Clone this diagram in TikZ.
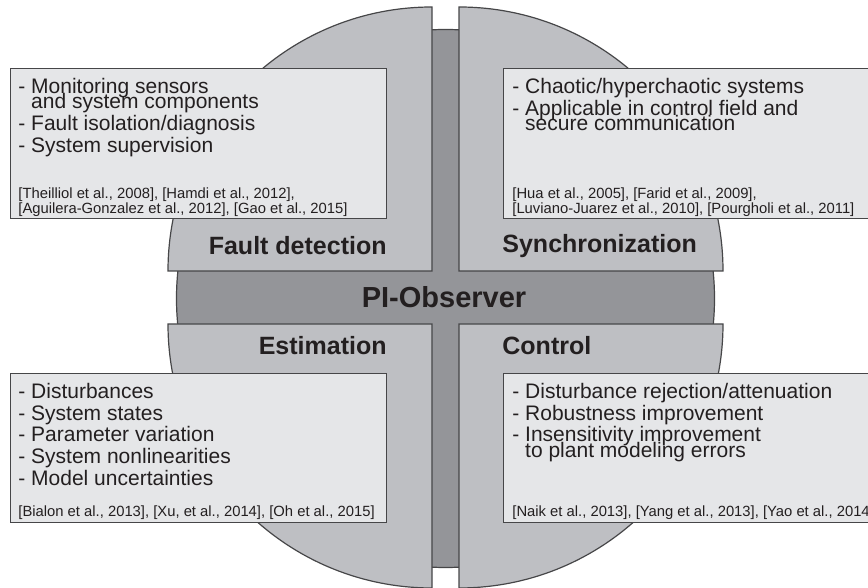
\documentclass[tikz,border=0pt]{standalone}
\usepackage{fontspec}
\setmainfont{Liberation Sans}
\usetikzlibrary{positioning}
\definecolor{ringgray}{RGB}{148,149,153}
\definecolor{sectorgray}{RGB}{190,191,195}
\definecolor{boxgray}{RGB}{229,230,232}
\definecolor{inkgray}{RGB}{35,31,32}
\definecolor{edgegray}{RGB}{70,70,72}
\tikzset{
    sector/.style={fill=sectorgray, draw=edgegray, line width=0.6pt},
    infobox/.style={rectangle, draw=edgegray, fill=boxgray, line width=0.6pt,
                    inner sep=0pt, anchor=north west},
    itemtext/.style={align=left, inner sep=0pt, text=inkgray,
                     font=\fontsize{10.5}{7.7}\selectfont},
    citetext/.style={align=left, inner sep=0pt, text=inkgray,
                     font=\fontsize{7.4}{7.4}\selectfont},
    heading/.style={inner sep=0pt, text=inkgray, font=\fontsize{12.5}{15}\selectfont\bfseries}
}

\begin{document}
\setlength{\lineskiplimit}{-20pt}
\begin{tikzpicture}[x=0.5pt, y=0.5pt]
    \useasboundingbox (0,0) rectangle (868,588);
    \clip (0,0) rectangle (868,588);
    % ring and the four quarters
    \filldraw[fill=ringgray, draw=edgegray, line width=0.6pt] (445.5,289.5) circle[radius=269];
    \draw[sector] (432,317) -- (168,317) arc[start angle=180, end angle=90, radius=264] -- cycle;
    \draw[sector] (459,317) -- (723,317) arc[start angle=0, end angle=90, radius=264] -- cycle;
    \draw[sector] (432,264) -- (168,264) arc[start angle=180, end angle=270, radius=264] -- cycle;
    \draw[sector] (459,264) -- (723,264) arc[start angle=0, end angle=-90, radius=264] -- cycle;
    % titles
    \node[heading, anchor=base] (piobs) at (444,280)
        {\fontsize{14.5}{17}\selectfont PI-Observer};
    \node[heading, anchor=base east] (fault) at (387,333) {Fault detection};
    \node[heading, anchor=base west] (sync) at (502,335) {Synchronization};
    \node[heading, anchor=base east] (estim) at (387,233) {Estimation};
    \node[heading, anchor=base west] (ctrl) at (502,233) {Control};
    % boxes
    \node[infobox, minimum width=188pt, minimum height=75pt] (ulbox) at (10,520) {};
    \node[infobox, minimum width=190pt, minimum height=75pt] (urbox) at (503,520) {};
    \node[infobox, minimum width=188pt, minimum height=74.5pt] (llbox) at (10,215) {};
    \node[infobox, minimum width=190pt, minimum height=74.5pt] (lrbox) at (503,215) {};
    \node[itemtext, below right=4.8pt and 4pt of ulbox.north west] (ultext)
        {- Monitoring sensors\\\phantom{- }and system components\\[3.2pt]
         - Fault isolation/diagnosis\\[3.2pt]- System supervision};
    \node[citetext, above right=1pt and 4pt of ulbox.south west] (ulcite)
        {[Theilliol et al., 2008], [Hamdi et al., 2012],\\{}%
         [Aguilera-Gonzalez et al., 2012], [Gao et al., 2015]};
    \node[itemtext, below right=4.8pt and 4.5pt of urbox.north west] (urtext)
        {- Chaotic/hyperchaotic systems\\[3.2pt]
         - Applicable in control field and\\\phantom{- }secure communication};
    \node[citetext, above right=1pt and 4.5pt of urbox.south west] (urcite)
        {[Hua et al., 2005], [Farid et al., 2009],\\{}%
         [Luviano-Juarez et al., 2010], [Pourgholi et al., 2011]};
    \node[itemtext, below right=4.8pt and 4pt of llbox.north west] (lltext)
        {- Disturbances\\[3.2pt]- System states\\[3.2pt]- Parameter variation\\[3.2pt]
         - System nonlinearities\\[3.2pt]- Model uncertainties};
    \node[citetext, above right=1.5pt and 4pt of llbox.south west] (llcite)
        {[Bialon et al., 2013], [Xu, et al., 2014], [Oh et al., 2015]};
    \node[itemtext, below right=4.8pt and 4.5pt of lrbox.north west] (lrtext)
        {- Disturbance rejection/attenuation\\[3.2pt]- Robustness improvement\\[3.2pt]
         - Insensitivity improvement\\\phantom{- }to plant modeling errors};
    \node[citetext, above right=1.5pt and 4.5pt of lrbox.south west] (lrcite)
        {[Naik et al., 2013], [Yang et al., 2013], [Yao et al., 2014]};
\end{tikzpicture}
\end{document}
